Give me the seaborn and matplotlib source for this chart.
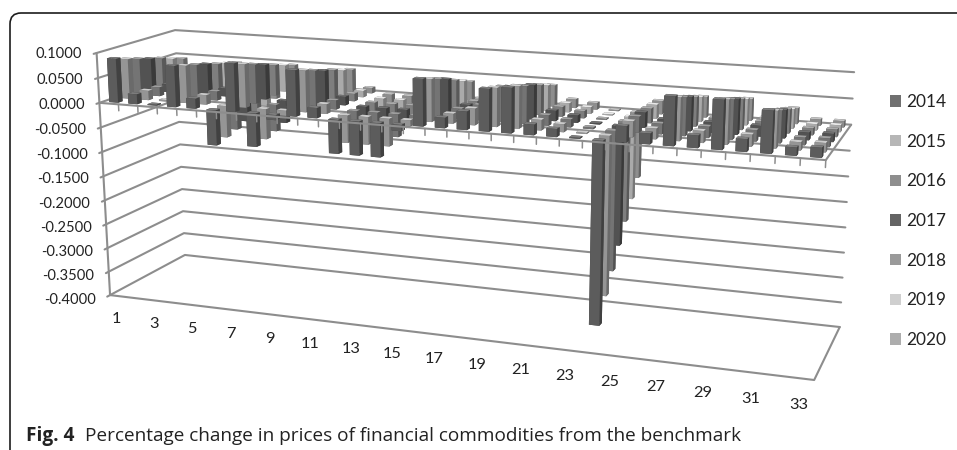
import numpy as np
import seaborn as sns
import matplotlib
matplotlib.use('Agg')
import matplotlib.pyplot as plt
from matplotlib.patches import FancyBboxPatch, Patch
from matplotlib.transforms import IdentityTransform
from mpl_toolkits.mplot3d import proj3d

# --- values, one list per year, categories 1..33 ---
y2014 = [.088, .020, .002, .082, .020, -.070, .095, -.066, -.010, .090, .020, -.066, -.066, -.066, -.012, .090, .020, .035, .080, .085, .020, .015, .002, -.350, .030, .020, .090, .023, .090, .023, .077, .015, .018]
y2015 = [.080, .019, .003, .075, .019, -.063, .086, -.060, -.010, .082, .019, -.054, -.054, -.054, -.012, .082, .019, .032, .074, .080, .020, .015, .002, -.306, .030, .020, .080, .022, .082, .022, .068, .015, .017]
y2016 = [.073, .018, .003, .069, .018, -.056, .078, -.053, -.012, .074, .018, -.045, -.045, -.045, -.010, .074, .020, .030, .068, .072, .020, .015, .003, -.270, .030, .020, .072, .021, .074, .021, .060, .014, .016]
y2017 = [.066, .016, .002, .063, .016, -.048, .070, -.045, -.010, .066, .017, -.036, -.036, -.036, -.010, .066, .019, .028, .060, .066, .020, .014, .002, -.232, .029, .019, .064, .020, .066, .020, .052, .014, .015]
y2018 = [.060, .014, .002, .056, .014, -.040, .062, -.038, -.008, .060, .015, -.028, -.028, -.028, -.008, .056, .018, .026, .054, .058, .019, .014, .002, -.196, .028, .019, .056, .019, .058, .019, .045, .013, .014]
y2019 = [.052, .012, .003, .050, .012, -.033, .054, -.030, -.008, .052, .013, -.022, -.022, -.022, -.007, .047, .016, .024, .046, .050, .018, .013, .002, -.162, .027, .018, .048, .018, .050, .018, .037, .012, .013]
y2020 = [.045, .010, .002, .044, .010, -.026, .047, -.024, -.006, .046, .011, -.016, -.016, -.016, -.006, .038, .015, .022, .038, .042, .017, .013, .002, -.130, .026, .017, .040, .017, .042, .017, .030, .012, .012]

years = ['2014', '2015', '2016', '2017', '2018', '2019', '2020']
series = [y2014, y2015, y2016, y2017, y2018, y2019, y2020]
year_colors = ['#707070', '#b6b6b6', '#8e8e8e', '#646464', '#9a9a9a', '#cfcfcf', '#adadad']
value_ticks = [0.1, 0.05, 0.0, -0.05, -0.1, -0.15, -0.2, -0.25, -0.3, -0.35, -0.4]
n_cats = 33

sns.set_style('white')
plt.rcParams['font.family'] = ['Lato', 'DejaVu Sans']

# camera: where the box corners of the plot sit on the canvas (cat, depth, value) -> px
corners = [
    (0, 0, .1, 97, 53), (0, 0, -.4, 110, 295), (0, 0, 0, 99, 103),
    (0, 1, .1, 175, 30), (0, 1, -.4, 185, 255),
    (33, 1, .1, 854, 72), (33, 1, 0, 852, 125), (33, 1, -.4, 839, 327),
    (33, 0, 0, 825, 160), (33, 0, -.4, 815, 380),
]
rows = []
for cx, cd, cv, px, py in corners:
    h = [cx / 33, cd, cv, 1]
    rows.append(h + [0, 0, 0, 0] + [-px * a for a in h])
    rows.append([0, 0, 0, 0] + h + [-py * a for a in h])
p = np.linalg.svd(np.array(rows, dtype=float))[2][-1].reshape(3, 4)
p = p @ np.diag([1 / 33, 1, 1, 1])
if p[2, 3] < 0:
    p = -p
# third row only orders the faces inside a bar (big = far)
depth_row = np.array([-0.02, 1.0, -0.5, 0.0])
proj = np.vstack([p[0], p[1], depth_row * p[2, 3], p[2]])

fig = plt.figure(figsize=(9.57, 4.5), dpi=100)
# ortho so mplot3d does not clip lines to the -1..1 view box
ax = fig.add_axes([0, 0, 1, 1], projection='3d', computed_zorder=False, proj_type='ortho')
ax.set_axis_off()
ax.patch.set_alpha(0)
ax.set_xlim(0, 33)
ax.set_ylim(0, 1)
ax.set_zlim(-.4, .1)
ax.get_proj = lambda: proj
ax.apply_aspect = lambda position=None: None
ax.viewLim.intervalx = (0, 957)
ax.viewLim.intervaly = (450, 0)

grid = '#8d8d8d'
lw = 1.5

# walls
for v in value_ticks:
    ax.plot([0, 0, 33], [-.035, 1, 1], [v, v, v], color=grid, lw=lw, zorder=1)
ax.plot([0, 0], [0, 0], [.1, -.4], color=grid, lw=lw, zorder=1)
ax.plot([0, 33, 33], [0, 0, 1], [-.4, -.4, -.4], color=grid, lw=lw, zorder=1)

# bars, far row first and left to right inside a row
bar_w = .46
bar_d = .055
for j in range(6, -1, -1):
    base = np.array(matplotlib.colors.to_rgb(year_colors[j]))
    front = base * .82
    side = base * .58
    top = np.clip(base * 1.12, 0, 1)
    faces = [side, top, front, side, side, side]
    for i, val in enumerate(series[j]):
        ax.bar3d(i + .56 - bar_w / 2, (j + .5) / 7 - bar_d / 2, min(val, 0), bar_w, bar_d, abs(val),
                 color=faces, shade=False, edgecolor='none', linewidth=0, zorder=10 + (6 - j) * 40 + i)

# zero plane edge goes over the bars
ax.plot([0, 33, 33], [0, 0, 1], [0, 0, 0], color=grid, lw=lw, zorder=500)
for k in range(1, n_cats + 1):
    ax.plot([k, k], [0, 0], [0, -.013], color=grid, lw=1.1, zorder=500)


def label_at(cat, depth, value, text, **kwargs):
    # same camera as the bars, text is placed on the figure
    px, py, _ = proj3d.proj_transform(cat, depth, value, proj)
    fig.text(px / 957, 1 - py / 450, text, va='center', color='#222222', **kwargs)


# tick labels
for v in value_ticks:
    label_at(0, -.17, v + .006, f'{v:.4f}', ha='right', fontsize=10.6)
for k in range(1, n_cats + 1, 2):
    label_at(k - .5, -.05, -.445, str(k), ha='center', fontsize=11.8)

# legend
handles = [Patch(facecolor=c, edgecolor='none') for c in year_colors]
fig.legend(handles, years, loc='upper left', bbox_to_anchor=(890 / 957, 1 - 94 / 450), frameon=False,
           fontsize=12.4, handlelength=.64, handleheight=.64, handletextpad=.27, labelspacing=1.375,
           labelcolor='#222222', borderpad=0, borderaxespad=0)

# frame and caption
fig.add_artist(FancyBboxPatch((10, -40), 1000, 477, boxstyle='round,pad=0,rounding_size=11',
                              fc='none', ec='#1c1c1c', lw=1.2, transform=IdentityTransform()))
fig.text(26 / 957, 1 - 441 / 450, 'Fig. 4', family='Open Sans', weight='bold', fontsize=13.7, color='#222222')
fig.text(85 / 957, 1 - 441 / 450, 'Percentage change in prices of financial commodities from the benchmark',
         family='Open Sans', fontsize=13.65, color='#222222')

fig.savefig('out.png', dpi=100)
